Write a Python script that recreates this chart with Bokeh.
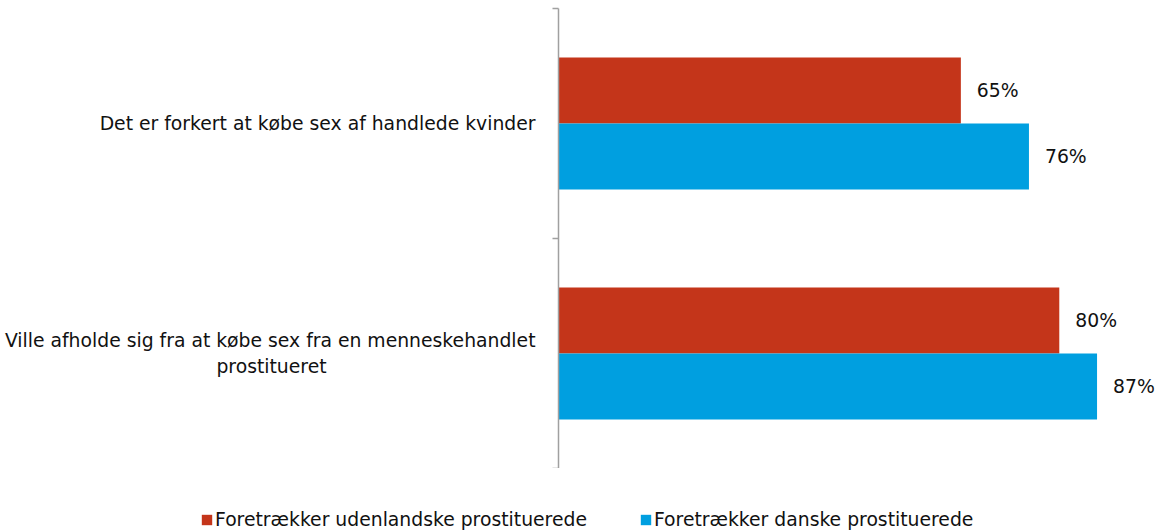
from bokeh.plotting import figure
from bokeh.models import ColumnDataSource, FixedTicker, Legend, LegendItem
from bokeh.layouts import column
from bokeh.embed import file_html
from bokeh.resources import INLINE

categories = [
    "Det er forkert at købe sex af handlede kvinder",
    "Ville afholde sig fra at købe sex fra en menneskehandlet\nprostitueret",
]
series = ["Foretrækker udenlandske prostituerede", "Foretrækker danske prostituerede"]
udenlandske = [65, 80.9]
danske = [76, 87]
udenlandske_labels = ["65%", "80%"]
danske_labels = ["76%", "87%"]
colors = ["#C4351A", "#009FE0"]

FONT = "DejaVu Sans"
FS = "18.8px"


def centre_lines(label):
    """Centre the lines of a wrapped label (axis labels are right-aligned)."""
    lines = label.split("\n")
    longest = max(len(l) for l in lines)
    return "\n".join(l + "\u00a0" * round((longest - len(l)) / 2 / 0.635) for l in lines)


n = len(categories)
ypos = [n - 1 - i for i in range(n)]  # first category on top
bar_h = 0.287

p = figure(width=1160, height=468, x_range=(0, 97.25), y_range=(-0.5, n - 0.5),
           output_backend="svg", toolbar_location=None, x_axis_location=None,
           min_border_left=558, min_border_right=0, min_border_top=8, min_border_bottom=0)

for k, (vals, labs, off) in enumerate([(udenlandske, udenlandske_labels, bar_h / 2),
                                       (danske, danske_labels, -bar_h / 2)]):
    src = ColumnDataSource(dict(y=[y + off for y in ypos], x=vals, lab=labs))
    p.hbar(y="y", right="x", left=0, height=bar_h, fill_color=colors[k],
           line_color=None, source=src)
    p.text(x="x", y="y", text="lab", x_offset=16, text_baseline="middle",
           text_align="left", text_font={"value": FONT}, text_font_size=FS,
           text_color="#111111", source=src)

ax = p.yaxis[0]
ax.ticker = FixedTicker(ticks=ypos, minor_ticks=[-0.5 + i for i in range(n + 1)])
ax.major_label_overrides = {float(y): centre_lines(c) for y, c in zip(ypos, categories)}
ax.major_tick_line_color = None
ax.major_tick_out = 0
ax.major_tick_in = 0
ax.major_label_standoff = 17
ax.minor_tick_line_color = "#A0A0A0"
ax.minor_tick_line_width = 1.5
ax.minor_tick_out = 6
ax.minor_tick_in = 0
ax.axis_line_color = "#A0A0A0"
ax.axis_line_width = 1.5
ax.major_label_text_font = FONT
ax.major_label_text_font_size = FS
ax.major_label_text_color = "#111111"

p.grid.visible = False
p.outline_line_color = None

# legend strip below the chart (its own frame spans the full width)
lp = figure(width=1160, height=63, x_range=(0, 1), y_range=(0, 1),
            output_backend="svg", toolbar_location=None,
            x_axis_location=None, y_axis_location=None,
            min_border_left=0, min_border_right=0, min_border_top=0, min_border_bottom=0)
lp.frame_align = False
lp.grid.visible = False
lp.outline_line_color = None
nan = float("nan")
keys = [lp.hbar(y=[nan], right=[nan], left=0, height=1, fill_color=c, line_color=None)
        for c in colors]
legend = Legend(items=[LegendItem(label=s, renderers=[r]) for s, r in zip(series, keys)],
                orientation="horizontal", location=(200, 1), padding=0, margin=0,
                spacing=52, glyph_width=13, glyph_height=13, label_standoff=2,
                label_text_font=FONT, label_text_font_size=FS, label_text_color="#111111",
                border_line_color=None, background_fill_alpha=0)
lp.add_layout(legend)

open("out.html", "w").write(file_html(column(p, lp, spacing=0), INLINE))
